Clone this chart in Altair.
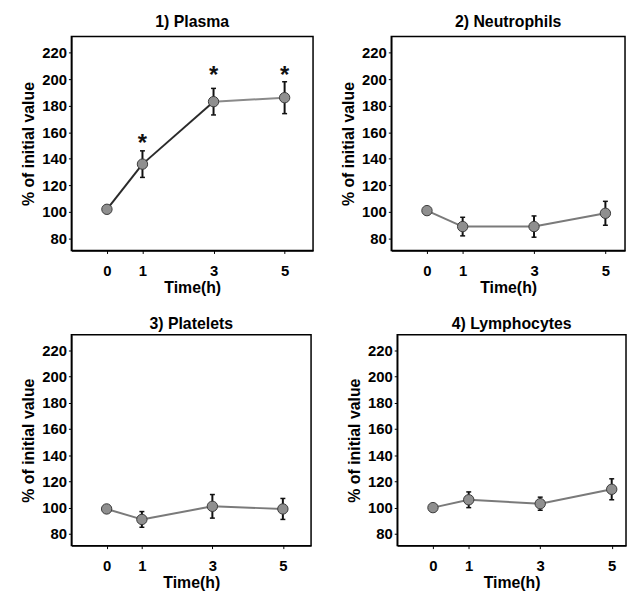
import altair as alt
import pandas as pd

times = [0, 1, 3, 5]
x_ticks = [0, 1, 3, 5]
y_ticks = [80, 100, 120, 140, 160, 180, 200, 220]

titles = ["1) Plasma", "2) Neutrophils", "3) Platelets", "4) Lymphocytes"]

plasma_mean = [102, 136, 183, 186]
plasma_err = [0, 10, 10, 12]
plasma_star = [None, 155, 206, 206]

neutro_mean = [101, 89, 89, 99]
neutro_err = [0, 7, 8, 9]

platelet_mean = [99, 91, 101, 99]
platelet_err = [0, 6, 9, 8]

lympho_mean = [100, 106, 103, 114]
lympho_err = [0, 6, 5, 8]

seg_dark = ["#2a2a2a", "#2a2a2a", "#8a8a8a"]
seg_grey = ["#7a7a7a", "#7a7a7a", "#7a7a7a"]

Y_DOMAIN = [71, 232]


def panel(title, mean, err, seg_colors, width, height, xmax, toff, stars=None):
    df = pd.DataFrame({
        "t": times,
        "v": mean,
        "lo": [m - e for m, e in zip(mean, err)],
        "hi": [m + e for m, e in zip(mean, err)],
    })
    seg = pd.DataFrame({
        "t": times[:-1], "t2": times[1:],
        "v": mean[:-1], "v2": mean[1:],
        "c": seg_colors,
    })
    xs = alt.Scale(domain=[-1, xmax], nice=False, zero=False)
    ys = alt.Scale(domain=Y_DOMAIN, nice=False, zero=False)
    xa = alt.Axis(values=x_ticks, title="Time(h)", labelPadding=10, titlePadding=1)
    ya = alt.Axis(values=y_ticks, title="% of initial value", labelPadding=2, titlePadding=5)

    def X(f):
        return alt.X(f, type="quantitative", scale=xs, axis=xa)

    def Y(f):
        return alt.Y(f, type="quantitative", scale=ys, axis=ya)

    lines = alt.Chart(seg).mark_rule(strokeWidth=2).encode(
        x=X("t"), y=Y("v"), x2="t2", y2="v2",
        color=alt.Color("c:N", scale=None),
    )
    bars = alt.Chart(df).mark_rule(strokeWidth=2, color="#111").encode(
        x=X("t"), y=Y("lo"), y2="hi"
    )
    cap_hi = alt.Chart(df).mark_rule(strokeWidth=1.5, color="#111", xOffset=-2.5, x2Offset=2.5).encode(
        x=X("t"), x2="t", y=Y("hi")
    )
    cap_lo = alt.Chart(df).mark_rule(strokeWidth=1.5, color="#111", xOffset=-2.5, x2Offset=2.5).encode(
        x=X("t"), x2="t", y=Y("lo")
    )
    pts = alt.Chart(df).mark_circle(size=110, color="#8f8f8f", stroke="#3a3a3a",
                                    strokeWidth=1, opacity=1).encode(x=X("t"), y=Y("v"))
    layers = [lines, bars, cap_hi, cap_lo, pts]
    if stars is not None:
        sdf = pd.DataFrame({"t": times, "s": stars}).dropna()
        st = alt.Chart(sdf).mark_text(text="*", fontSize=24, fontWeight="bold",
                                      baseline="middle", dy=5, color="#111").encode(
            x=X("t"), y=Y("s"))
        layers.append(st)
    return alt.layer(*layers).properties(
        width=width, height=height,
        title=alt.TitleParams(title, fontSize=16, fontWeight="bold", offset=toff),
    )


p1 = panel(titles[0], plasma_mean, plasma_err, seg_dark, 244, 216, 5.8, 7, plasma_star)
p2 = panel(titles[1], neutro_mean, neutro_err, seg_grey, 236, 216, 5.55, 7)
p3 = panel(titles[2], platelet_mean, platelet_err, seg_grey, 242, 213, 5.8, 3)
p4 = panel(titles[3], lympho_mean, lympho_err, seg_grey, 231, 213, 5.4, 3)

chart = alt.vconcat(
    alt.hconcat(p1, p2, spacing=26),
    alt.hconcat(p3, p4, spacing=34),
    spacing=19,
).properties(
    padding={"left": 12, "top": 2, "right": 0, "bottom": 0}
).configure(
    font="Liberation Sans",
).configure_view(
    stroke="black", strokeWidth=1.5
).configure_axis(
    labelFontSize=15, labelFontWeight="bold", labelColor="black",
    titleFontSize=16, titleFontWeight="bold", titleColor="black",
    domainColor="black", domainWidth=1.5, tickColor="black", tickSize=3,
    grid=False,
).configure_title(color="black")

chart.save("out.html", embed_options={"renderer": "svg", "actions": False})
